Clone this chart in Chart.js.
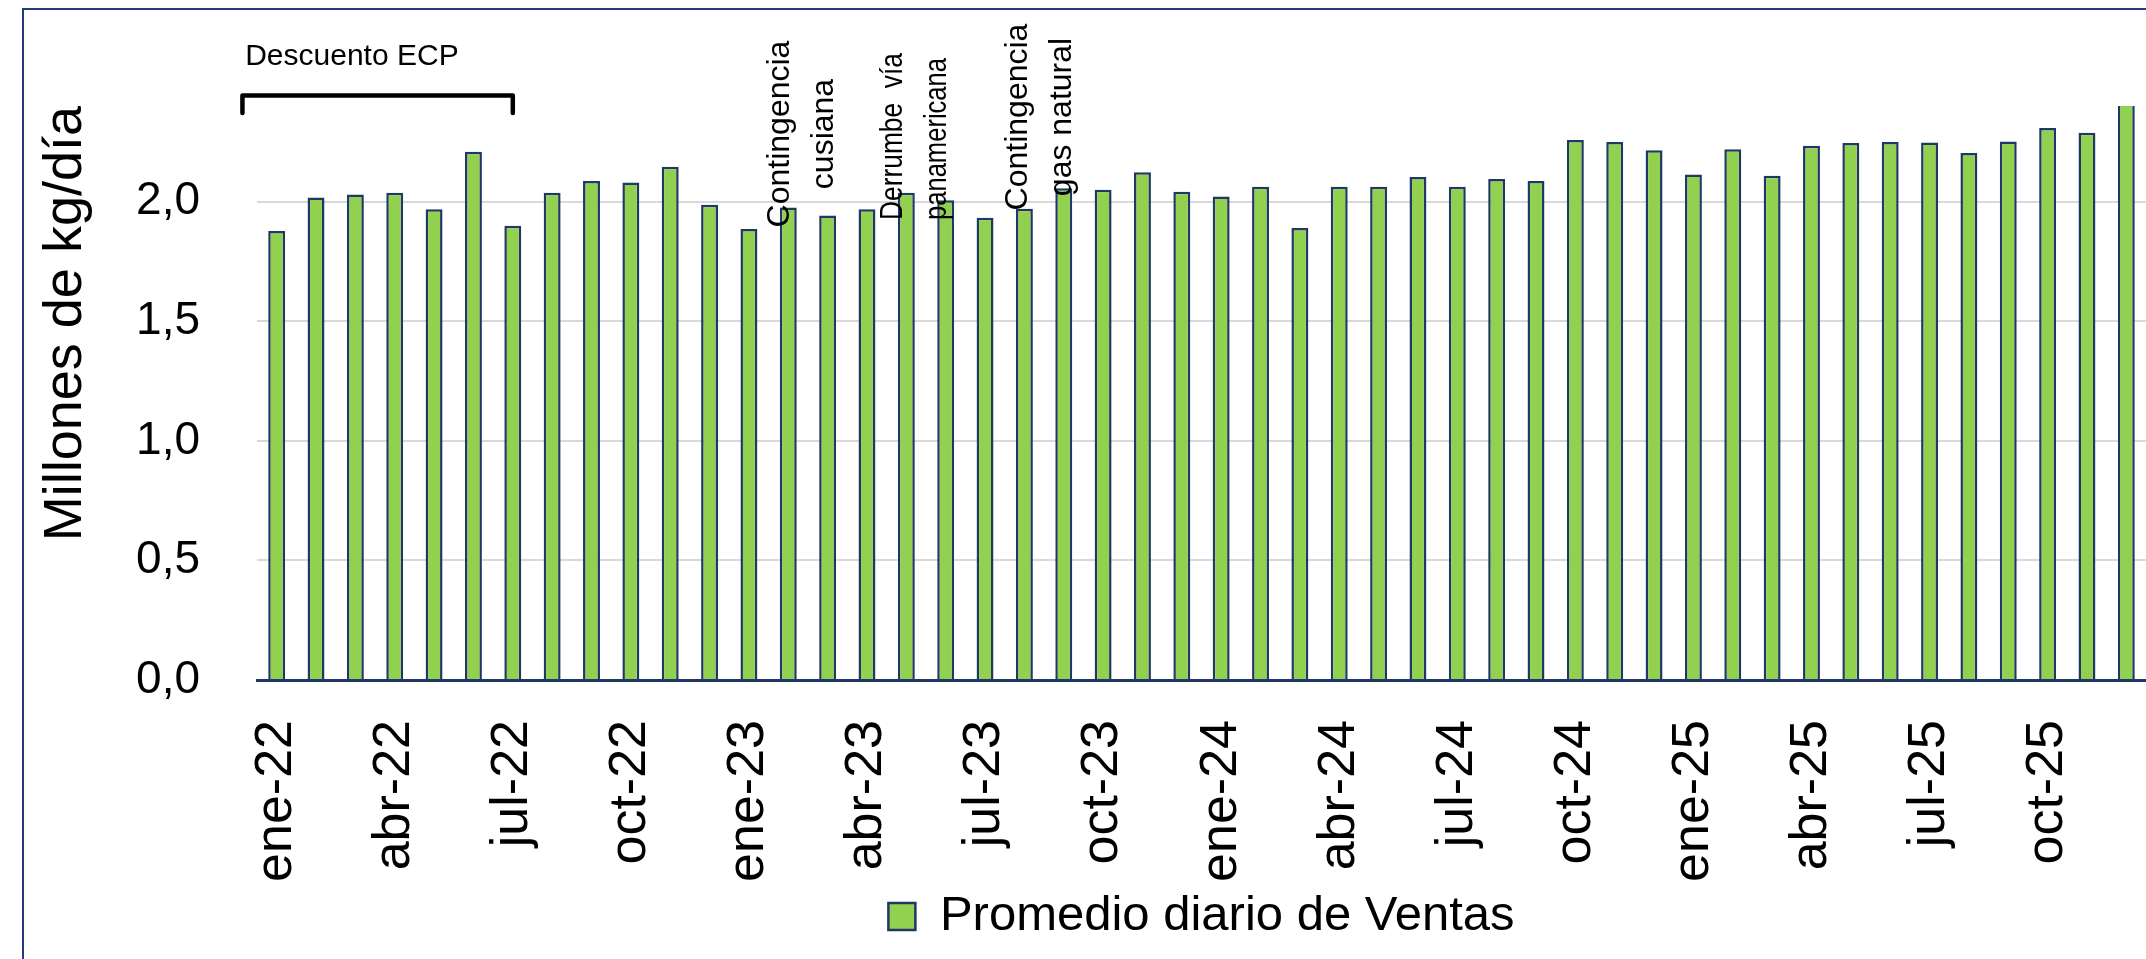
<!DOCTYPE html>
<html>
<head>
<meta charset="utf-8">
<title>Promedio diario de Ventas</title>
<script src="https://cdn.jsdelivr.net/npm/chart.js@4/dist/chart.umd.min.js"></script>
<style>
	html, body { margin: 0; padding: 0; background: #fff; }
	canvas { display: block; }
</style>
</head>
<body>
<canvas id="chart" width="2146" height="959"></canvas>
<script>
// Monthly categories, ene-22 .. dic-25
const months = [
	"ene-22", "feb-22", "mar-22", "abr-22", "may-22", "jun-22", "jul-22", "ago-22", "sep-22", "oct-22", "nov-22", "dic-22",
	"ene-23", "feb-23", "mar-23", "abr-23", "may-23", "jun-23", "jul-23", "ago-23", "sep-23", "oct-23", "nov-23", "dic-23",
	"ene-24", "feb-24", "mar-24", "abr-24", "may-24", "jun-24", "jul-24", "ago-24", "sep-24", "oct-24", "nov-24", "dic-24",
	"ene-25", "feb-25", "mar-25", "abr-25", "may-25", "jun-25", "jul-25", "ago-25", "sep-25", "oct-25", "nov-25", "dic-25",
];

// Millones de kg/día
const ventas = [
	1.877, 2.017, 2.030, 2.037, 1.968, 2.209, 1.899, 2.037, 2.086, 2.080, 2.146, 1.987,
	1.886, 1.976, 1.942, 1.968, 2.037, 2.006, 1.933, 1.970, 2.056, 2.050, 2.123, 2.041,
	2.022, 2.062, 1.890, 2.062, 2.062, 2.103, 2.062, 2.095, 2.086, 2.258, 2.249, 2.215,
	2.114, 2.219, 2.108, 2.234, 2.245, 2.249, 2.247, 2.204, 2.252, 2.308, 2.288, 2.420,
];

const seriesName = "Promedio diario de Ventas";
const yTitle = "Millones de kg/día";
const yTicks = [0, 0.5, 1.0, 1.5, 2.0];
const yMax = 2.4;

// Event notes: text lines and the month index they sit on
const notes = [
	{ lines: ["Contingencia", "cusiana"], at: 13.03, align: "center", y: 134 },
	{ lines: ["Derrumbe  vía", "panamericana"], at: 15.88, align: "left", y: 220, squeeze: [167, 162] },
	{ lines: ["Contingencia", "gas natural"], at: 19.06, align: "center", y: 117 },
];
const bracket = { text: "Descuento ECP", from: -0.87, to: 6 };

const FONT = "'Liberation Sans', Arial, sans-serif";
const NAVY = "#1F3864";

const framePlugin = {
	id: "frame",
	beforeDraw(chart){
		const c = chart.ctx;
		c.save();
		c.strokeStyle = "#203E7A";
		c.lineWidth = 2;
		c.strokeRect(23, 9, 4000, 4000);
		c.restore();
	}
};

const notesPlugin = {
	id: "notes",
	afterDatasetsDraw(chart){
		const c = chart.ctx;
		const x = chart.scales.x;
		c.save();
		c.fillStyle = "#000";
		c.font = "32px " + FONT;
		c.textBaseline = "alphabetic";
		notes.forEach(n => {
			c.save();
			c.translate(x.getPixelForValue(n.at), n.y);
			c.rotate(-Math.PI / 2);
			c.textAlign = n.align;
			n.lines.forEach((line, k) => {
				if (n.squeeze) c.fillText(line, 0, k * 44, n.squeeze[k]);
				else c.fillText(line, 0, k * 44);
			});
			c.restore();
		});

		// Descuento ECP bracket
		const x0 = x.getPixelForValue(bracket.from);
		const x1 = x.getPixelForValue(bracket.to);
		c.font = "30px " + FONT;
		c.textAlign = "left";
		c.fillText(bracket.text, x.getPixelForValue(-0.8), 65);
		c.strokeStyle = "#000";
		c.lineWidth = 4.5;
		c.lineJoin = "round";
		c.lineCap = "round";
		c.beginPath();
		c.moveTo(x0, 113);
		c.lineTo(x0, 95.5);
		c.lineTo(x1, 95.5);
		c.lineTo(x1, 113);
		c.stroke();
		c.restore();
	}
};

new Chart(document.getElementById("chart"), {
	type: "bar",
	data: {
		labels: months,
		datasets: [{
			label: seriesName,
			data: ventas,
			backgroundColor: "#92D050",
			borderColor: NAVY,
			borderWidth: 2.5,
			barPercentage: 0.43,
			categoryPercentage: 1,
			clip: 0,
		}],
	},
	options: {
		responsive: false,
		animation: false,
		devicePixelRatio: 1,
		layout: { padding: { top: 106, left: 0, right: 0, bottom: 8 } },
		scales: {
			x: {
				grid: { display: false, drawTicks: false, tickLength: 0 },
				border: { display: true, color: NAVY, width: 3 },
				ticks: {
					autoSkip: false,
					minRotation: 90,
					maxRotation: 90,
					padding: 40,
					color: "#000",
					font: { family: FONT, size: 52 },
					callback: (v, i) => i % 3 === 0 ? months[i] : "",
				},
				afterFit: s => {
					s.height = 202;
					// let the plot run to the right edge like the original
					s.paddingLeft = 0;
					s.paddingRight = 0;
				},
			},
			y: {
				min: 0,
				max: yMax,
				grid: { color: "#D9D9D9", lineWidth: 2, drawTicks: false },
				border: { display: false },
				ticks: {
					stepSize: 0.5,
					padding: 57,
					color: "#000",
					font: { family: FONT, size: 46 },
					callback: v => v.toFixed(1).replace(".", ","),
				},
				afterBuildTicks: s => { s.ticks = yTicks.map(v => ({ value: v })); },
				title: {
					display: true,
					text: yTitle,
					align: "end",
					color: "#000",
					font: { family: FONT, size: 54 },
					padding: { top: 34, bottom: 0 },
				},
				afterFit: s => { s.width = 257; },
			},
		},
		plugins: {
			legend: {
				position: "bottom",
				fullSize: false,
				labels: {
					boxWidth: 27,
					boxHeight: 27,
					padding: 10,
					color: "#000",
					font: { family: FONT, size: 49 },
				},
			},
			tooltip: { enabled: false },
		},
	},
	plugins: [framePlugin, notesPlugin],
});
</script>
</body>
</html>
